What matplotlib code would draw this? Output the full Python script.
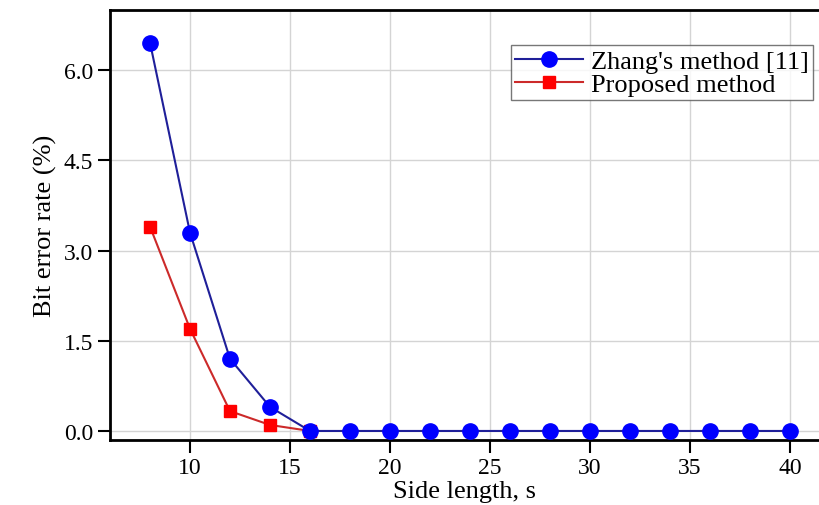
import matplotlib.pyplot as plt

# Bit error rate vs side length
side_length = [8, 10, 12, 14, 16, 18, 20, 22, 24, 26, 28, 30, 32, 34, 36, 38, 40]
zhang_ber = [6.46, 3.3, 1.2, 0.4, 0, 0, 0, 0, 0, 0, 0, 0, 0, 0, 0, 0, 0]
proposed_x = [8, 10, 12, 14, 16]
proposed_ber = [3.4, 1.7, 0.33, 0.1, 0]
x_ticks = [10, 15, 20, 25, 30, 35, 40]
y_ticks = [0.0, 1.5, 3.0, 4.5, 6.0]

plt.rcParams["font.family"] = ["Liberation Serif", "DejaVu Serif"]

fig = plt.figure(figsize=(8.19, 5.06), dpi=100)
ax = fig.add_axes([0.1343, 0.1285, 0.8657, 0.8495])

ax.plot(proposed_x, proposed_ber, color="#cc2a2a", lw=1.5, marker="s",
        markersize=8, markerfacecolor="#ff0000", markeredgecolor="#ff0000",
        label="Proposed method", zorder=3)
ax.plot(side_length, zhang_ber, color="#1f1f99", lw=1.5, marker="o",
        markersize=11, markerfacecolor="#0000ff", markeredgecolor="#0000ff",
        label="Zhang's method [11]", zorder=4)

ax.set_xlim(6, 41.45)
ax.set_ylim(-0.15, 7.0)
ax.set_xticks(x_ticks)
ax.set_yticks(y_ticks)
ax.set_yticklabels([f"{v:.1f}" for v in y_ticks])
ax.grid(True, color="#d4d4d4", lw=1)
ax.set_axisbelow(True)

ax.spines["right"].set_visible(False)
for side in ["left", "bottom", "top"]:
    ax.spines[side].set_linewidth(2)
ax.tick_params(direction="out", length=9, width=1.5, labelsize=17, pad=3)

ax.set_xlabel("Side length, s", fontsize=19, va="top")
ax.xaxis.set_label_coords(0.5, -0.093)
ax.set_ylabel("Bit error rate (%)", fontsize=19, labelpad=5)

handles, labels = ax.get_legend_handles_labels()
leg = ax.legend(handles[::-1], labels[::-1], loc="upper right",
                bbox_to_anchor=(0.9915, 0.918), fontsize=19, frameon=True,
                fancybox=False, edgecolor="#555555", handlelength=2.6,
                handletextpad=0.3, borderpad=0.15, labelspacing=0.0,
                borderaxespad=0)
leg.get_frame().set_linewidth(1)

fig.savefig("out.png", dpi=100)
